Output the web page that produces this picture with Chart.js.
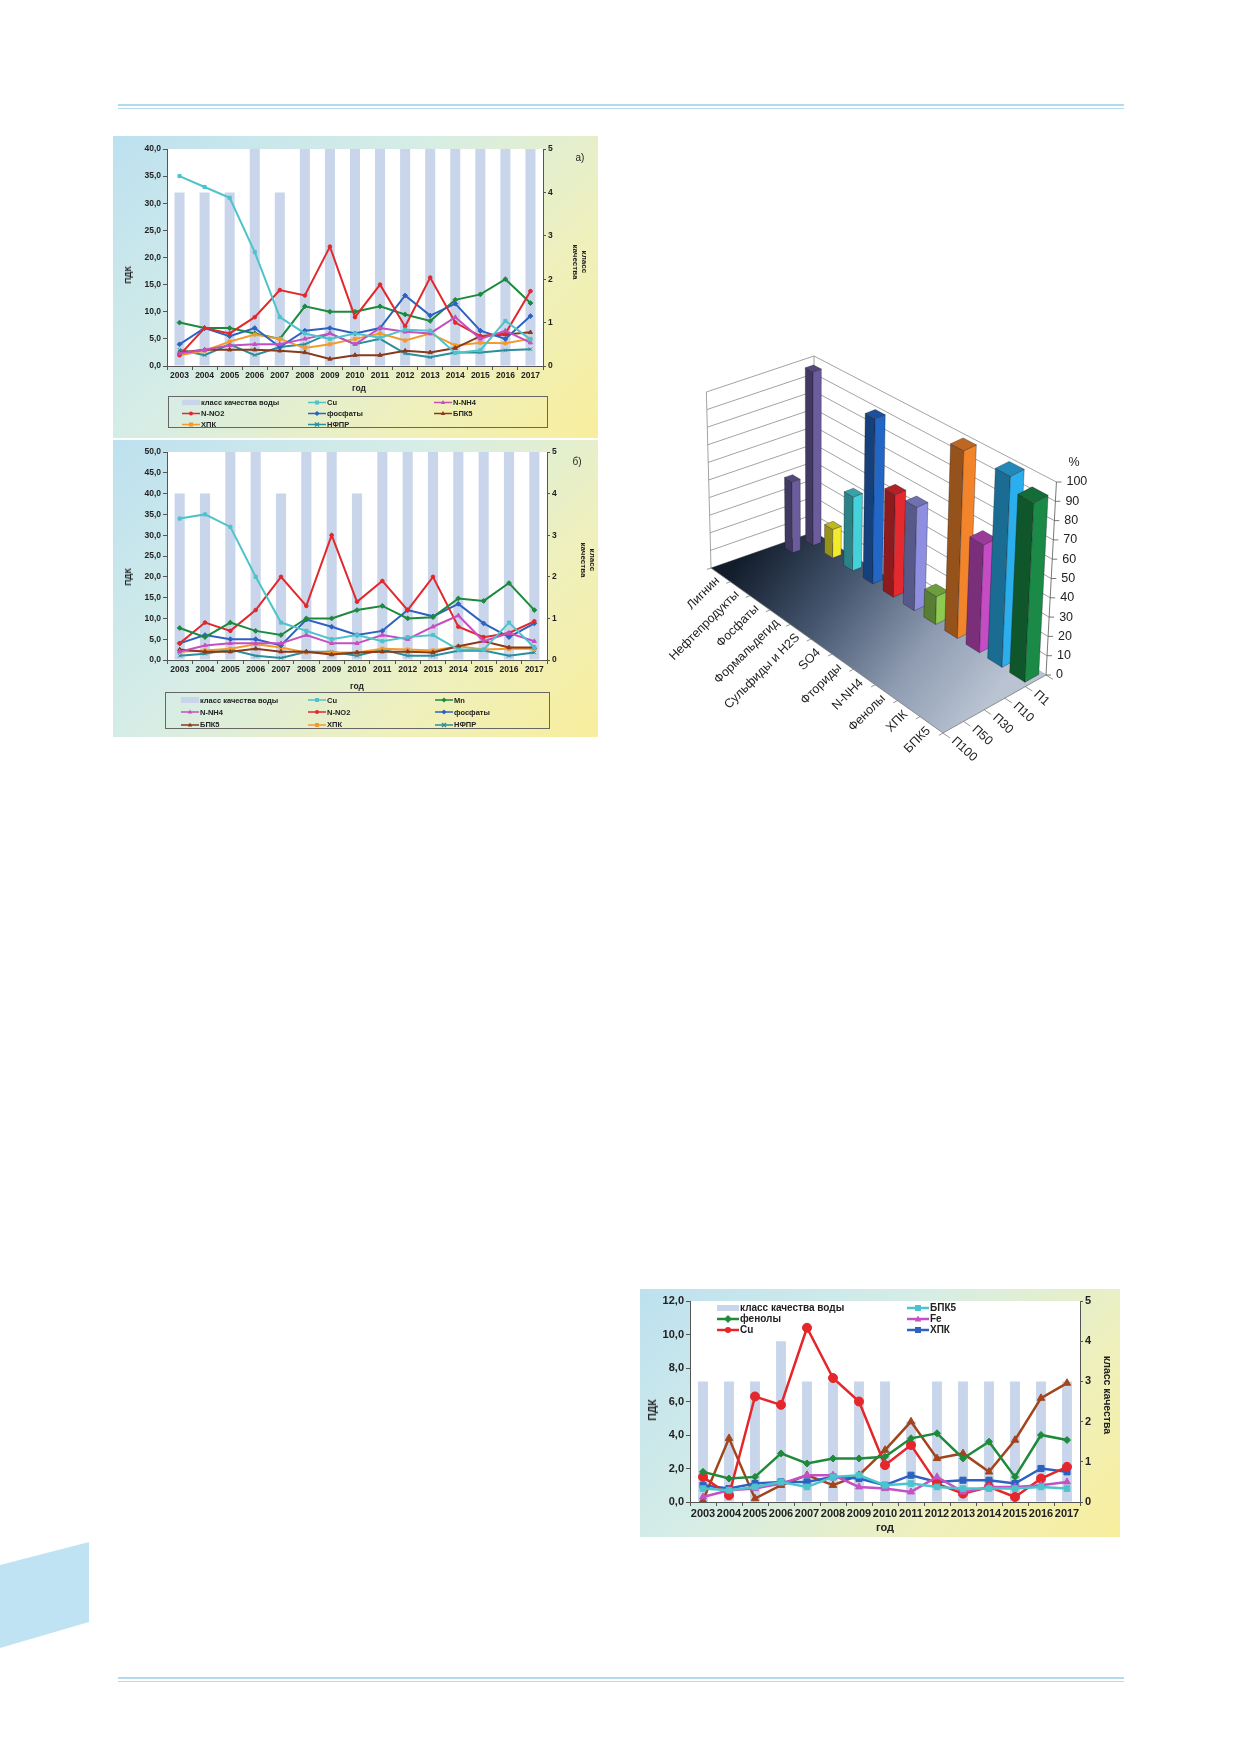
<!DOCTYPE html>
<html lang="ru">
<head>
<meta charset="utf-8">
<script src="https://cdn.jsdelivr.net/npm/chart.js@4.4.1/dist/chart.umd.min.js"></script>
<style>
html, body { margin: 0; padding: 0; background: #fff; }
body { width: 1239px; height: 1752px; position: relative; overflow: hidden;
       font-family: 'Liberation Sans', Arial, sans-serif; color: #222; }
.rule { position: absolute; left: 118px; width: 1006px; background: #b3dbec; }
.panel { position: absolute;
         background: linear-gradient(135deg, #bde1f0 0%, #d6ede6 40%, #eef0bd 72%, #f8ee9c 100%); }
.panel canvas { position: absolute; left: 0; top: 0; }
.lbl { position: absolute; font-weight: bold; white-space: nowrap; transform: translate(-50%, -50%); }
.vl { writing-mode: vertical-rl; text-align: center; }
.rot { transform: translate(-50%, -50%) rotate(-90deg); }
.legend { position: absolute; display: grid; box-sizing: border-box; }
.legend .it { display: flex; align-items: center; font-weight: bold; white-space: nowrap; }
.legend svg { display: block; margin-right: 1px; }
</style>
</head>
<body>

<div class="rule" style="top:104px;height:2px"></div>
<div class="rule" style="top:108px;height:1px"></div>
<div class="rule" style="top:1677px;height:2px"></div>
<div class="rule" style="top:1681px;height:1px"></div>
<svg style="position:absolute;left:0;top:1540px" width="92" height="112">
  <polygon points="0,25 89,2 89,82 0,108" fill="#bfe3f3"/>
</svg>

<!-- chart a -->
<div class="panel" style="left:113px;top:136px;width:485px;height:302px">
  <canvas id="chartA" width="485" height="302"></canvas>
</div>
<div class="lbl rot" style="left:128px;top:275px;font-size:8.5px">ПДК</div>
<div class="lbl" style="left:359px;top:388px;font-size:8.5px">год</div>
<div class="lbl vl" style="left:580px;top:262px;font-size:8px;line-height:9px">класс<br>качества</div>
<div class="lbl" style="left:580px;top:157px;font-size:10px;font-weight:normal">а)</div>
<div class="legend" id="legendA" style="left:168px;top:396px;width:380px;height:32px;border:1px solid #666;
     padding:0 0 0 13px;grid-template-columns:126px 126px 120px;grid-auto-rows:11px;font-size:7.5px"></div>

<!-- chart b -->
<div class="panel" style="left:113px;top:440px;width:485px;height:297px">
  <canvas id="chartB" width="485" height="297"></canvas>
</div>
<div class="lbl rot" style="left:128px;top:577px;font-size:8.5px">ПДК</div>
<div class="lbl" style="left:357px;top:686px;font-size:8.5px">год</div>
<div class="lbl vl" style="left:588px;top:560px;font-size:8px;line-height:9px">класс<br>качества</div>
<div class="lbl" style="left:577px;top:461px;font-size:10px;font-weight:normal">б)</div>
<div class="legend" id="legendB" style="left:165px;top:692px;width:385px;height:37px;border:1px solid #666;
     padding:1px 0 0 15px;grid-template-columns:127px 127px 120px;grid-auto-rows:12.3px;font-size:7.5px"></div>

<!-- 3d chart -->
<canvas id="chart3d" width="460" height="460" style="position:absolute;left:656px;top:350px"></canvas>

<!-- chart c -->
<div class="panel" style="left:640px;top:1289px;width:480px;height:248px">
  <canvas id="chartC" width="480" height="248"></canvas>
</div>
<div class="lbl rot" style="left:652px;top:1410px;font-size:10.5px">ПДК</div>
<div class="lbl" style="left:885px;top:1527px;font-size:11px">год</div>
<div class="lbl vl" style="left:1108px;top:1395px;font-size:10.5px">класс качества</div>
<div class="legend" id="legendC" style="left:717px;top:1302px;grid-template-columns:190px 150px;
     grid-auto-rows:11px;font-size:10px"></div>

<script>
// years on the x axis
const years = ['2003','2004','2005','2006','2007','2008','2009','2010','2011','2012','2013','2014','2015','2016','2017'];

// chart a)
const classA = [4, 4, 4, 5, 4, 5, 5, 5, 5, 5, 5, 5, 5, 5, 5];
const cuA    = [35.0, 33.0, 31.0, 21.0, 9.0, 6.0, 5.0, 6.0, 5.2, 6.7, 6.5, 2.4, 2.9, 8.3, 4.9];
const nh4A   = [2.3, 3.0, 3.8, 4.0, 4.0, 5.0, 6.0, 4.0, 7.0, 6.3, 6.0, 9.0, 5.0, 6.5, 4.3];
const no2A   = [2.0, 7.0, 6.0, 9.0, 14.0, 13.0, 22.0, 9.0, 15.0, 7.3, 16.3, 8.0, 5.5, 6.0, 13.8];
const phosA  = [4.0, 7.0, 5.5, 7.0, 3.5, 6.5, 7.0, 6.0, 7.0, 13.0, 9.3, 11.5, 6.5, 5.0, 9.2];
const bpkA   = [2.5, 3.0, 3.0, 3.0, 2.8, 2.5, 1.3, 2.0, 2.0, 2.8, 2.5, 3.3, 5.5, 5.8, 6.2];
const hpkA   = [2.0, 2.8, 4.5, 5.8, 5.0, 3.3, 4.0, 5.0, 6.0, 4.7, 6.0, 3.8, 4.3, 4.2, 5.0];
const nfprA  = [3.0, 2.0, 4.0, 2.0, 3.5, 4.0, 6.0, 4.0, 5.0, 2.3, 1.6, 2.5, 2.5, 2.9, 3.1];
const mnA    = [8.0, 7.0, 7.0, 6.0, 5.0, 11.0, 10.0, 10.0, 11.0, 9.5, 8.3, 12.2, 13.2, 16.0, 11.6];

// chart б)
const classB = [4, 4, 5, 5, 4, 5, 5, 4, 5, 5, 5, 5, 5, 5, 5];
const cuB    = [34.0, 35.0, 32.0, 20.0, 9.0, 7.0, 5.0, 6.0, 4.5, 5.5, 6.0, 2.5, 2.5, 9.0, 3.0];
const mnB    = [7.7, 5.5, 9.0, 7.0, 6.0, 10.0, 10.0, 12.0, 13.0, 10.0, 10.3, 14.8, 14.2, 18.5, 12.0];
const nh4B   = [2.0, 3.5, 4.0, 4.0, 4.0, 6.0, 4.0, 4.0, 6.0, 5.0, 8.0, 10.7, 4.5, 6.5, 4.5];
const no2B   = [4.0, 9.0, 7.0, 12.0, 20.0, 13.0, 30.0, 14.0, 19.0, 12.0, 20.0, 8.0, 5.5, 6.5, 9.3];
const phosB  = [4.0, 6.0, 5.0, 5.0, 3.5, 9.7, 8.0, 6.0, 7.0, 12.0, 10.5, 13.5, 8.8, 5.5, 8.8];
const bpkB   = [2.5, 2.0, 2.0, 2.7, 2.0, 2.0, 1.3, 1.8, 2.0, 2.0, 1.8, 3.3, 4.5, 3.0, 3.0];
const hpkB   = [2.0, 2.3, 2.7, 3.8, 3.0, 1.8, 1.8, 1.8, 2.7, 2.5, 2.3, 3.3, 2.5, 2.7, 2.7];
const nfprB  = [1.0, 1.5, 2.5, 1.0, 0.5, 2.0, 2.0, 1.0, 2.5, 1.0, 1.0, 2.2, 2.3, 1.0, 1.8];

// bottom chart
const classC  = [3, 3, 3, 4, 3, 3, 3, 3, 2, 3, 3, 3, 3, 3, 3];
const bpkC    = [0.8, 0.7, 0.9, 1.2, 0.9, 1.5, 1.6, 1.0, 1.1, 0.9, 0.8, 0.8, 0.8, 0.9, 0.8];
const phenolC = [1.8, 1.4, 1.5, 2.9, 2.3, 2.6, 2.6, 2.7, 3.8, 4.1, 2.6, 3.6, 1.5, 4.0, 3.7];
const feC     = [0.3, 0.7, 0.8, 1.1, 1.6, 1.6, 0.9, 0.8, 0.6, 1.5, 0.6, 0.9, 0.9, 1.0, 1.2];
const cuC     = [1.5, 0.4, 6.3, 5.8, 10.4, 7.4, 6.0, 2.2, 3.4, 1.1, 0.5, 0.9, 0.3, 1.4, 2.1];
const hpkC    = [1.0, 0.8, 1.1, 1.2, 1.2, 1.5, 1.4, 1.0, 1.6, 1.2, 1.3, 1.3, 1.1, 2.0, 1.8];
const otherC  = [0.1, 3.8, 0.2, 1.0, 1.6, 1.0, 1.6, 3.1, 4.8, 2.6, 2.9, 1.8, 3.7, 6.2, 7.1];

// 3d chart: % of exceedances by level
const categories3d = ['Лигнин','Нефтепродукты','Фосфаты','Формальдегид','Сульфиды и H2S','SO4','Фториды','N-NH4','Фенолы','ХПК','БПК5'];
const series3d = ['П1','П10','П30','П50','П100'];
const p1Values   = [98, 16, 41, 91, 56, 56, 15, 100, 57, 100, 93];
const p10Values  = [40, 0, 0, 0, 0, 0, 0, 0, 0, 0, 0];
const p30Values  = [0, 0, 0, 0, 0, 0, 0, 0, 0, 0, 0];
const p50Values  = [0, 0, 0, 0, 0, 0, 0, 0, 0, 0, 0];
const p100Values = [0, 0, 0, 0, 0, 0, 0, 0, 0, 0, 0];
const barColors3d = ['#6b5c9e','#f2ea2c','#45d1da','#2267c6','#e42a2e','#8e8fe0','#8ccb50','#f2842c','#c64cc6','#2aaeec','#1a8a46'];

Chart.defaults.font.family = "'Liberation Sans', Arial, sans-serif";
Chart.defaults.color = '#222';

const classColor = '#c8d5ea';

function barSet(data, pct) {
    return { type: 'bar', label: 'класс качества воды', data: data, backgroundColor: classColor,
             yAxisID: 'y2', order: 10, barPercentage: pct, categoryPercentage: 1, marker: 'bar' };
}
function lineSet(label, data, color, point, r, inLegend) {
    return { type: 'line', label: label, data: data, borderColor: color, backgroundColor: color,
             borderWidth: 2, pointStyle: point, pointRadius: r, pointBorderWidth: 1, tension: 0,
             yAxisID: 'y', order: 1, marker: point, inLegend: inLegend !== false };
}

// white plot area
const plotBg = {
    id: 'plotBg',
    beforeDraw(chart) {
        const { ctx, chartArea: a } = chart;
        ctx.save();
        ctx.fillStyle = '#fff';
        ctx.fillRect(a.left, a.top, a.right - a.left, a.bottom - a.top);
        ctx.restore();
    }
};

function makeChart(id, datasets, leftMax, leftStep, fs, dims) {
    const font = { size: fs, weight: 'bold' };
    const grid = { drawOnChartArea: false, tickLength: 4, color: '#555' };
    return new Chart(document.getElementById(id), {
        type: 'bar',
        data: { labels: years, datasets: datasets },
        options: {
            responsive: false,
            animation: false,
            layout: { padding: { top: dims.padTop, left: 0, right: 0, bottom: 0 } },
            plugins: { legend: { display: false }, tooltip: { enabled: false } },
            scales: {
                x: { offset: true, grid: Object.assign({ offset: true }, grid), border: { color: '#555' },
                     ticks: { font: font, padding: 1, maxRotation: 0, autoSkip: false },
                     afterFit: s => { s.height = dims.bottomH; } },
                y: { position: 'left', min: 0, max: leftMax, grid: grid, border: { color: '#555' },
                     ticks: { stepSize: leftStep, font: font, padding: 2,
                              callback: v => v.toFixed(1).replace('.', ',') },
                     afterFit: s => { s.width = dims.leftW; } },
                y2: { position: 'right', min: 0, max: 5, grid: { drawOnChartArea: false, tickLength: 3, color: '#555' },
                      border: { color: '#555' },
                      ticks: { stepSize: 1, font: font, padding: 2 },
                      afterFit: s => { s.width = dims.rightW; } }
            }
        },
        plugins: [plotBg]
    });
}

function markerSvg(style, color, cx, cy, r) {
    switch (style) {
        case 'rect': return `<rect x="${cx - r}" y="${cy - r}" width="${2 * r}" height="${2 * r}" fill="${color}"/>`;
        case 'triangle': return `<polygon points="${cx},${cy - r * 1.2} ${cx + r * 1.1},${cy + r * 0.8} ${cx - r * 1.1},${cy + r * 0.8}" fill="${color}"/>`;
        case 'rectRot': return `<polygon points="${cx},${cy - r * 1.3} ${cx + r * 1.3},${cy} ${cx},${cy + r * 1.3} ${cx - r * 1.3},${cy}" fill="${color}"/>`;
        case 'crossRot': return `<path d="M${cx - r} ${cy - r}L${cx + r} ${cy + r}M${cx + r} ${cy - r}L${cx - r} ${cy + r}" stroke="${color}" stroke-width="1.3"/>`;
        default: return `<circle cx="${cx}" cy="${cy}" r="${r}" fill="${color}"/>`;
    }
}

function buildLegend(id, datasets, w, h, r, lw) {
    const box = document.getElementById(id);
    datasets.filter(d => d.marker === 'bar' || d.inLegend).forEach(d => {
        let svg;
        if (d.marker === 'bar') {
            svg = `<svg width="${w}" height="${h}"><rect x="0" y="${h / 2 - h * 0.3}" width="${w}" height="${h * 0.6}" fill="${classColor}"/></svg>`;
        } else {
            svg = `<svg width="${w}" height="${h}"><line x1="0" y1="${h / 2}" x2="${w}" y2="${h / 2}" stroke="${d.borderColor}" stroke-width="${lw}"/>` +
                  markerSvg(d.marker, d.borderColor, w / 2, h / 2, r) + '</svg>';
        }
        const it = document.createElement('div');
        it.className = 'it';
        it.innerHTML = svg + '<span>' + d.label + '</span>';
        box.appendChild(it);
    });
}

// chart a)
const setsA = [
    barSet(classA, 0.4),
    lineSet('Cu', cuA, '#4ec3ca', 'rect', 2.2),
    lineSet('N-NH4', nh4A, '#c64fc0', 'triangle', 2.4),
    lineSet('N-NO2', no2A, '#e2282c', 'circle', 1.8),
    lineSet('фосфаты', phosA, '#2d62c0', 'rectRot', 2.4),
    lineSet('БПК5', bpkA, '#8a3a1a', 'triangle', 2.4),
    lineSet('ХПК', hpkA, '#f39a2c', 'rect', 2.2),
    lineSet('НФПР', nfprA, '#2b8e9d', 'crossRot', 2.4),
    lineSet('Mn', mnA, '#1c8a3c', 'rectRot', 2.4, false)
];
makeChart('chartA', setsA, 40, 5, 8.5, { padTop: 13, leftW: 54, rightW: 55, bottomH: 72 });
buildLegend('legendA', setsA, 18, 9, 2, 1.5);

// chart б)
const setsB = [
    barSet(classB, 0.4),
    lineSet('Cu', cuB, '#4ec3ca', 'rect', 2.2),
    lineSet('Mn', mnB, '#1c8a3c', 'rectRot', 2.4),
    lineSet('N-NH4', nh4B, '#c64fc0', 'triangle', 2.4),
    lineSet('N-NO2', no2B, '#e2282c', 'circle', 1.8),
    lineSet('фосфаты', phosB, '#2d62c0', 'rectRot', 2.4),
    lineSet('БПК5', bpkB, '#8a3a1a', 'triangle', 2.4),
    lineSet('ХПК', hpkB, '#f39a2c', 'rect', 2.2),
    lineSet('НФПР', nfprB, '#2b8e9d', 'crossRot', 2.4)
];
makeChart('chartB', setsB, 50, 5, 8.5, { padTop: 12, leftW: 54, rightW: 51, bottomH: 77 });
buildLegend('legendB', setsB, 18, 10, 2, 1.5);

// bottom chart
const setsC = [
    barSet(classC, 0.38),
    lineSet('БПК5', bpkC, '#4cc4cc', 'rect', 4),
    lineSet('фенолы', phenolC, '#1e8a3a', 'rectRot', 3.5),
    lineSet('Fe', feC, '#c452c4', 'triangle', 4),
    lineSet('Cu', cuC, '#e5262b', 'circle', 4.5),
    lineSet('ХПК', hpkC, '#2d62c0', 'rect', 4.3),
    lineSet('', otherC, '#a2441c', 'triangle', 4.3, false)
];
setsC.forEach(d => { if (d.type === 'line') d.borderWidth = 2.5; });
makeChart('chartC', setsC, 12, 2, 11, { padTop: 12, leftW: 50, rightW: 40, bottomH: 35 });
buildLegend('legendC', setsC, 22, 10, 3, 2.5);

// 3d column chart, drawn from the bar chart's scales
const floor = { L: [55, 218], B: [158, 182], R: [390, 325], F: [287, 383] };
function warp(t) { return t / (1.1 - 0.1 * t); }
function proj(c, s, v) {
    const a = warp(c / 11), b = s / 5;
    const x = (1 - a) * (1 - b) * floor.L[0] + (1 - a) * b * floor.B[0] + a * b * floor.R[0] + a * (1 - b) * floor.F[0];
    const y = (1 - a) * (1 - b) * floor.L[1] + (1 - a) * b * floor.B[1] + a * b * floor.R[1] + a * (1 - b) * floor.F[1];
    // verticals spread slightly upward (view from above)
    return [x + (x - floor.B[0]) * 0.045 * v, y - (176 + 17 * a) * v];
}
function shade(hex, k) {
    const n = parseInt(hex.slice(1), 16);
    const r = Math.round(((n >> 16) & 255) * k), g = Math.round(((n >> 8) & 255) * k), b = Math.round((n & 255) * k);
    return `rgb(${r},${g},${b})`;
}
function poly(ctx, pts, fill, stroke) {
    ctx.beginPath();
    pts.forEach((p, i) => i ? ctx.lineTo(p[0], p[1]) : ctx.moveTo(p[0], p[1]));
    ctx.closePath();
    if (fill) { ctx.fillStyle = fill; ctx.fill(); }
    if (stroke) { ctx.strokeStyle = stroke; ctx.stroke(); }
}
function line(ctx, p, q) {
    ctx.beginPath(); ctx.moveTo(p[0], p[1]); ctx.lineTo(q[0], q[1]); ctx.stroke();
}

const box3d = {
    id: 'box3d',
    beforeDatasetsDraw() { return false; },
    afterDraw(chart) {
        const ctx = chart.ctx, xs = chart.scales.x, ys = chart.scales.y;
        const base = ys.getPixelForValue(0);
        const full = base - ys.getPixelForValue(100);
        const frac = v => (base - ys.getPixelForValue(v)) / full;
        const cOf = i => (xs.getPixelForValue(i) - xs.left) / xs.width * 11;
        const ticks = ys.ticks.map(t => t.value);
        ctx.save();

        // walls
        poly(ctx, [proj(0, 0, 0), proj(0, 5, 0), proj(0, 5, 1), proj(0, 0, 1)], '#fff');
        poly(ctx, [proj(0, 5, 0), proj(11, 5, 0), proj(11, 5, 1), proj(0, 5, 1)], '#fff');
        ctx.lineWidth = 0.8;
        ctx.strokeStyle = '#8c8c8c';
        ticks.forEach(t => {
            const f = frac(t);
            line(ctx, proj(0, 0, f), proj(0, 5, f));
            line(ctx, proj(0, 5, f), proj(11, 5, f));
        });
        line(ctx, proj(0, 0, 0), proj(0, 0, 1));
        line(ctx, proj(0, 5, 0), proj(0, 5, 1));

        // floor
        const g = ctx.createLinearGradient(90, 200, 320, 370);
        g.addColorStop(0, '#121c2b');
        g.addColorStop(0.35, '#45566f');
        g.addColorStop(0.7, '#8e9bb1');
        g.addColorStop(1, '#b9c3d2');
        poly(ctx, [proj(0, 0, 0), proj(0, 5, 0), proj(11, 5, 0), proj(11, 0, 0)], g);
        ctx.strokeStyle = '#7a7a7a';
        line(ctx, proj(0, 0, 0), proj(11, 0, 0));
        line(ctx, proj(11, 0, 0), proj(11, 5, 0));

        // axis ticks on floor edges
        for (let c = 0; c <= 11; c++) line(ctx, proj(c, 0, 0), proj(c, -0.2, 0));
        for (let s = 0; s <= 5; s++) line(ctx, proj(11, s, 0), proj(11.3, s, 0));

        // bars, back row first
        chart.data.datasets.forEach((ds, j) => {
            const s = 4.5 - j;
            ds.data.forEach((v, i) => {
                if (!v) return;
                const c = cOf(i), f = frac(v);
                const hw = (0.37 + 0.31 * c / 11) / 2;
                const c0 = c - hw, c1 = c + hw, s0 = s - hw, s1 = s + hw;
                const col = barColors3d[i];
                ctx.lineWidth = 0.6;
                const edge = 'rgba(20,20,30,0.55)';
                poly(ctx, [proj(c0, s0, 0), proj(c1, s0, 0), proj(c1, s0, f), proj(c0, s0, f)], shade(col, 0.62), edge);
                poly(ctx, [proj(c1, s0, 0), proj(c1, s1, 0), proj(c1, s1, f), proj(c1, s0, f)], col, edge);
                poly(ctx, [proj(c0, s0, f), proj(c1, s0, f), proj(c1, s1, f), proj(c0, s1, f)], shade(col, 0.78), edge);
            });
        });

        // value axis at the right corner
        ctx.strokeStyle = '#555';
        ctx.lineWidth = 0.8;
        line(ctx, proj(11, 5, 0), proj(11, 5, 1));
        ctx.fillStyle = '#222';
        ctx.font = "12.5px 'Liberation Sans', Arial, sans-serif";
        ctx.textAlign = 'left';
        ctx.textBaseline = 'middle';
        ticks.forEach(t => {
            const p = proj(11, 5, frac(t));
            line(ctx, p, [p[0] + 5, p[1]]);
            ctx.fillText(String(t), p[0] + 10, p[1]);
        });
        const top = proj(11, 5, 1);
        ctx.fillText('%', top[0] + 12, top[1] - 19);

        // category labels
        ctx.textAlign = 'right';
        chart.data.labels.forEach((lab, i) => {
            const p = proj(cOf(i), 0, 0);
            ctx.save();
            ctx.translate(p[0] - 3, p[1] + 4);
            ctx.rotate(-Math.PI / 4);
            ctx.fillText(lab, 0, 0);
            ctx.restore();
        });
        // series labels
        ctx.textAlign = 'left';
        chart.data.datasets.forEach((ds, j) => {
            const p = proj(11, 4.5 - j, 0);
            ctx.save();
            ctx.translate(p[0], p[1] + 12);
            ctx.rotate(0.75);
            ctx.fillText(ds.label, 0, 0);
            ctx.restore();
        });
        ctx.restore();
    }
};

const values3d = [p1Values, p10Values, p30Values, p50Values, p100Values];
new Chart(document.getElementById('chart3d'), {
    type: 'bar',
    data: {
        labels: categories3d,
        datasets: series3d.map((name, j) => ({ label: name, data: values3d[j], backgroundColor: barColors3d }))
    },
    options: {
        responsive: false,
        animation: false,
        layout: { padding: 0 },
        plugins: { legend: { display: false }, tooltip: { enabled: false } },
        scales: {
            x: { display: false },
            y: { display: false, min: 0, max: 100, ticks: { stepSize: 10 } }
        }
    },
    plugins: [box3d]
});
</script>
</body>
</html>
